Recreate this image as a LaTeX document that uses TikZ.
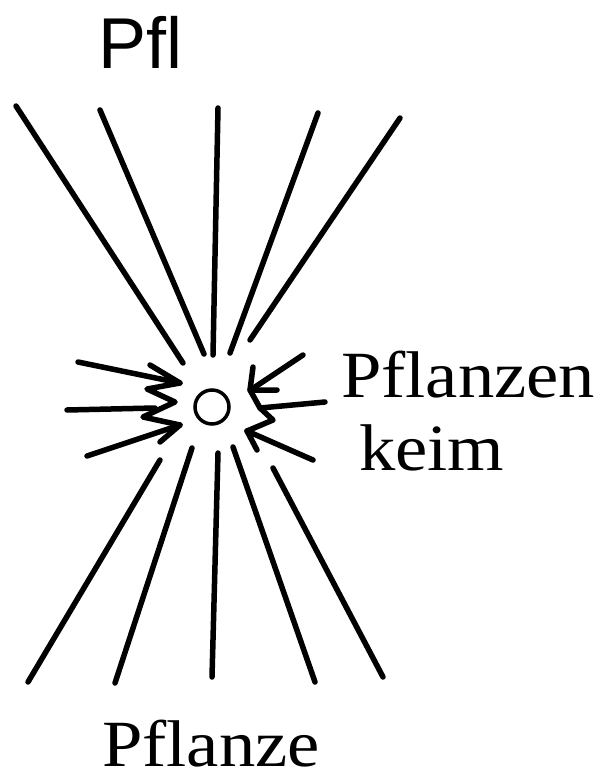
\documentclass[tikz,border=0pt]{standalone}
\usepackage{fontspec}
\setmainfont{Liberation Serif}[FakeStretch=1.1]
\newfontfamily\handfont{Liberation Sans}
\usepackage{tikz}
\usetikzlibrary{positioning,calc}
\tikzset{
  ray/.style={line width=5.5pt,line cap=round,black},
  zig/.style={line width=5.5pt,line cap=round,line join=round,black},
  germ/.style={circle,draw=black,line width=3.5pt,minimum size=34pt,inner sep=0pt},
  bigtxt/.style={font=\fontsize{66}{70}\selectfont,inner sep=0pt,anchor=base west},
  handtxt/.style={font=\handfont\fontsize{72}{76}\selectfont,inner sep=0pt,anchor=base west},
}
\begin{document}
\begin{tikzpicture}[x=1pt,y=-1pt]
  \useasboundingbox (0,0) rectangle (604,776);
  % labels
  \node[handtxt] (pfl) at (98,68) {Pfl};
  \node[bigtxt] (pflanzen) at (341,397) {Pflanzen};
  \node[bigtxt] (keim) at (359,470) {keim};
  \node[bigtxt] (pflanze) at (102,766) {Pflanze};
  % germ
  \node[germ] (g) at (212,407) {};
  % rays above
  \draw[ray] (16,106) -- (183,363);
  \draw[ray] (100,110) -- (204,354);
  \draw[ray] (218,108) -- (213,355);
  \draw[ray] (318,113) -- (230,353);
  \draw[ray] (400,118) -- (250,340);
  % rays below
  \draw[ray] (160,460) -- (28,682);
  \draw[ray] (192,448) -- (115,683);
  \draw[ray] (218,453) -- (212,677);
  \draw[ray] (233,447) -- (315,682);
  \draw[ray] (273,468) -- (383,677);
  % arrows from the left
  \draw[ray] (78,362) -- (180,383);
  \draw[ray] (67,410) -- (155,408);
  \draw[ray] (87,456) -- (180,425);
  \draw[zig] (150,365) -- (180,383) -- (147,389) -- (175,402)
    -- (143,417) -- (180,425) -- (160,442);
  % arrows from the right
  \draw[ray] (303,355) -- (252,389);
  \draw[ray] (325,402) -- (260,408);
  \draw[ray] (313,460) -- (247,431);
  \draw[zig] (253,367) -- (250,390) -- (277,390);
  \draw[zig] (250,390) -- (260,408) -- (273,420) -- (247,431) -- (257,450);
\end{tikzpicture}
\end{document}
